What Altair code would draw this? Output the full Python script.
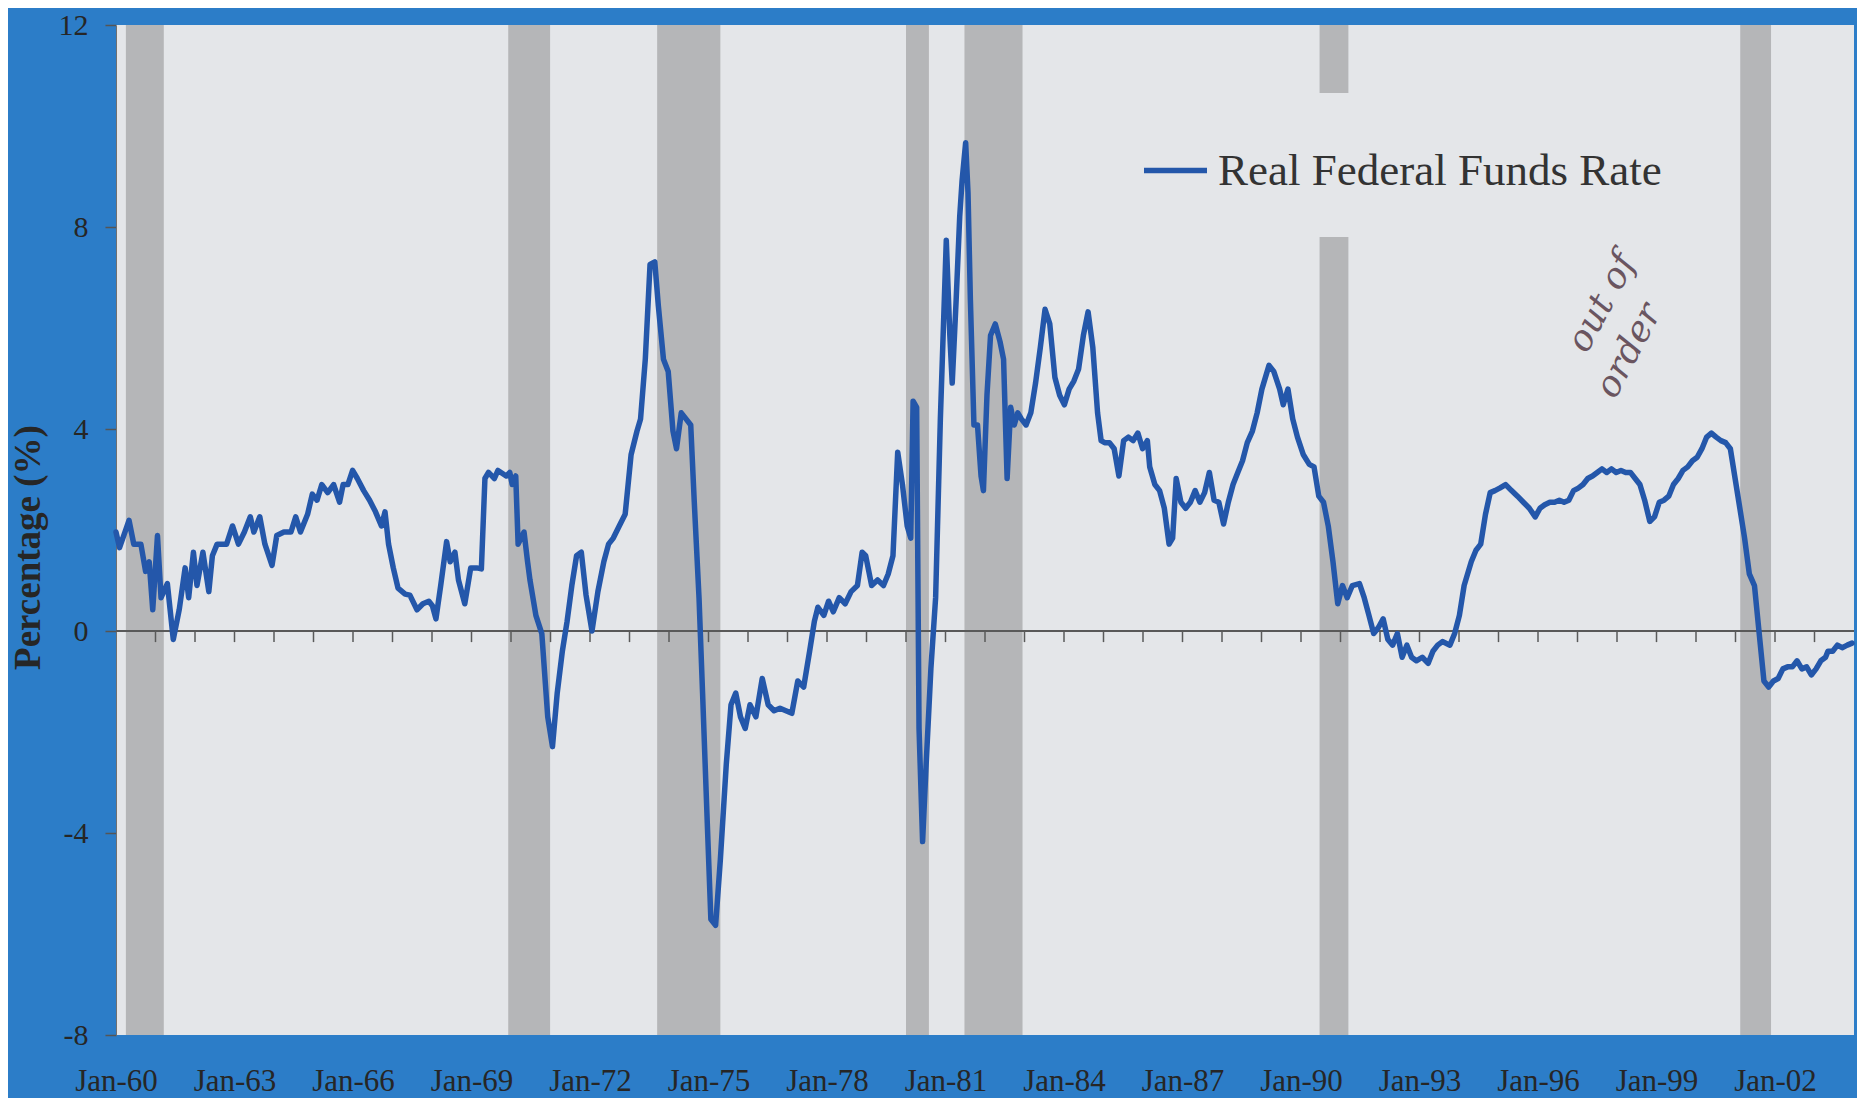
import altair as alt
import pandas as pd

SERIES = "Real Federal Funds Rate"

YEAR = [
    1960.00, 1960.09, 1960.33, 1960.45, 1960.63, 1960.75, 1960.84, 1960.93, 1961.05, 1961.14,
    1961.30, 1961.45, 1961.60, 1961.75, 1961.84, 1961.96, 1962.05, 1962.20, 1962.35, 1962.44,
    1962.56, 1962.80, 1962.95, 1963.10, 1963.25, 1963.40, 1963.49, 1963.64, 1963.77, 1963.95,
    1964.07, 1964.25, 1964.43, 1964.55, 1964.67, 1964.85, 1964.97, 1965.09, 1965.21, 1965.36,
    1965.51, 1965.66, 1965.75, 1965.87, 1965.99, 1966.11, 1966.27, 1966.42, 1966.57, 1966.72,
    1966.81, 1966.90, 1967.02, 1967.14, 1967.32, 1967.44, 1967.62, 1967.77, 1967.92, 1968.01,
    1968.10, 1968.22, 1968.37, 1968.46, 1968.58, 1968.67, 1968.83, 1968.98, 1969.13, 1969.25,
    1969.34, 1969.43, 1969.58, 1969.67, 1969.88, 1969.97, 1970.03, 1970.12, 1970.18, 1970.33,
    1970.42, 1970.48, 1970.63, 1970.78, 1970.93, 1971.05, 1971.17, 1971.30, 1971.42, 1971.54,
    1971.66, 1971.78, 1971.90, 1972.05, 1972.20, 1972.35, 1972.47, 1972.59, 1972.74, 1972.89,
    1973.04, 1973.19, 1973.28, 1973.40, 1973.52, 1973.64, 1973.73, 1973.86, 1973.98, 1974.10,
    1974.19, 1974.31, 1974.43, 1974.55, 1974.64, 1974.76, 1974.85, 1974.97, 1975.06, 1975.18,
    1975.30, 1975.45, 1975.57, 1975.69, 1975.81, 1975.93, 1976.05, 1976.20, 1976.36, 1976.51,
    1976.66, 1976.81, 1976.96, 1977.11, 1977.26, 1977.41, 1977.56, 1977.68, 1977.77, 1977.92,
    1978.04, 1978.16, 1978.31, 1978.46, 1978.61, 1978.77, 1978.89, 1978.98, 1979.13, 1979.28,
    1979.43, 1979.55, 1979.67, 1979.79, 1979.91, 1980.03, 1980.12, 1980.18, 1980.27, 1980.33,
    1980.42, 1980.51, 1980.63, 1980.75, 1980.87, 1981.02, 1981.11, 1981.17, 1981.27, 1981.36,
    1981.42, 1981.51, 1981.57, 1981.63, 1981.72, 1981.81, 1981.90, 1981.96, 1982.05, 1982.14,
    1982.26, 1982.38, 1982.47, 1982.56, 1982.65, 1982.74, 1982.83, 1982.92, 1983.04, 1983.16,
    1983.28, 1983.40, 1983.52, 1983.64, 1983.77, 1983.89, 1984.01, 1984.13, 1984.25, 1984.37,
    1984.49, 1984.61, 1984.73, 1984.85, 1984.94, 1985.03, 1985.15, 1985.27, 1985.39, 1985.51,
    1985.63, 1985.75, 1985.87, 1985.99, 1986.11, 1986.17, 1986.30, 1986.42, 1986.54, 1986.66,
    1986.75, 1986.84, 1986.96, 1987.08, 1987.20, 1987.32, 1987.44, 1987.56, 1987.68, 1987.80,
    1987.92, 1988.04, 1988.16, 1988.28, 1988.40, 1988.52, 1988.64, 1988.77, 1988.89, 1989.01,
    1989.19, 1989.31, 1989.46, 1989.55, 1989.67, 1989.79, 1989.91, 1990.06, 1990.21, 1990.33,
    1990.45, 1990.57, 1990.69, 1990.81, 1990.93, 1991.05, 1991.17, 1991.30, 1991.48, 1991.60,
    1991.72, 1991.84, 1991.96, 1992.08, 1992.20, 1992.32, 1992.44, 1992.56, 1992.68, 1992.80,
    1992.92, 1993.07, 1993.22, 1993.34, 1993.46, 1993.58, 1993.77, 1993.89, 1994.01, 1994.13,
    1994.31, 1994.43, 1994.55, 1994.67, 1994.79, 1994.91, 1995.03, 1995.18, 1995.33, 1995.48,
    1995.63, 1995.78, 1995.93, 1996.05, 1996.17, 1996.30, 1996.42, 1996.54, 1996.66, 1996.78,
    1996.90, 1997.02, 1997.14, 1997.26, 1997.38, 1997.50, 1997.62, 1997.74, 1997.86, 1997.98,
    1998.10, 1998.22, 1998.34, 1998.46, 1998.58, 1998.70, 1998.83, 1998.95, 1999.07, 1999.19,
    1999.31, 1999.43, 1999.55, 1999.67, 1999.79, 1999.91, 2000.03, 2000.15, 2000.27, 2000.39,
    2000.51, 2000.63, 2000.75, 2000.87, 2000.99, 2001.11, 2001.23, 2001.35, 2001.48, 2001.60,
    2001.72, 2001.84, 2001.96, 2002.08, 2002.20, 2002.32, 2002.44, 2002.56, 2002.68, 2002.80,
    2002.92, 2003.04, 2003.16, 2003.28, 2003.34, 2003.46, 2003.58, 2003.70, 2003.83, 2003.95,
]

RATE = [
    1.96, 1.65, 2.19, 1.72, 1.72, 1.18, 1.37, 0.42, 1.89, 0.66,
    0.94, -0.17, 0.42, 1.25, 0.66, 1.56, 0.90, 1.56, 0.78, 1.49,
    1.72, 1.72, 2.08, 1.72, 1.96, 2.26, 1.96, 2.26, 1.72, 1.30,
    1.89, 1.96, 1.96, 2.26, 1.96, 2.31, 2.71, 2.59, 2.90, 2.74,
    2.90, 2.55, 2.90, 2.90, 3.18, 3.02, 2.78, 2.59, 2.36, 2.08,
    2.36, 1.72, 1.25, 0.85, 0.73, 0.71, 0.42, 0.54, 0.59, 0.50,
    0.24, 0.90, 1.77, 1.37, 1.56, 1.01, 0.54, 1.25, 1.25, 1.23,
    3.02, 3.14, 3.02, 3.18, 3.07, 3.14, 2.90, 3.07, 1.72, 1.96,
    1.37, 1.01, 0.31, -0.05, -1.70, -2.29, -1.23, -0.40, 0.19, 0.90,
    1.49, 1.56, 0.71, 0.00, 0.78, 1.37, 1.72, 1.84, 2.08, 2.31,
    3.49, 3.96, 4.20, 5.38, 7.26, 7.31, 6.44, 5.38, 5.14, 3.96,
    3.61, 4.32, 4.20, 4.08, 2.55, 0.66, -1.23, -3.82, -5.71, -5.83,
    -4.53, -2.64, -1.46, -1.23, -1.70, -1.93, -1.46, -1.70, -0.94, -1.46,
    -1.58, -1.53, -1.58, -1.63, -0.99, -1.11, -0.40, 0.19, 0.47, 0.31,
    0.59, 0.38, 0.66, 0.54, 0.78, 0.90, 1.56, 1.49, 0.90, 1.01,
    0.90, 1.13, 1.49, 3.54, 2.90, 2.08, 1.84, 4.55, 4.43, -1.93,
    -4.17, -2.64, -0.75, 0.66, 4.20, 7.74, 5.85, 4.91, 6.56, 8.21,
    8.92, 9.67, 8.68, 6.56, 4.08, 4.08, 3.07, 2.78, 4.67, 5.85,
    6.08, 5.73, 5.38, 3.02, 4.43, 4.08, 4.32, 4.20, 4.08, 4.32,
    4.91, 5.61, 6.37, 6.08, 5.02, 4.67, 4.48, 4.79, 4.95, 5.19,
    5.85, 6.32, 5.61, 4.32, 3.77, 3.73, 3.73, 3.61, 3.07, 3.77,
    3.84, 3.77, 3.92, 3.61, 3.77, 3.25, 2.90, 2.78, 2.43, 1.72,
    1.84, 3.02, 2.55, 2.43, 2.55, 2.78, 2.55, 2.74, 3.14, 2.59,
    2.55, 2.12, 2.55, 2.90, 3.14, 3.37, 3.73, 3.96, 4.32, 4.79,
    5.26, 5.14, 4.79, 4.48, 4.79, 4.20, 3.84, 3.49, 3.30, 3.25,
    2.67, 2.55, 2.08, 1.37, 0.54, 0.90, 0.66, 0.90, 0.94, 0.66,
    0.31, -0.05, 0.07, 0.24, -0.17, -0.28, -0.05, -0.52, -0.28, -0.52,
    -0.59, -0.52, -0.64, -0.40, -0.28, -0.21, -0.28, -0.05, 0.31, 0.90,
    1.37, 1.60, 1.72, 2.31, 2.74, 2.78, 2.83, 2.90, 2.78, 2.67,
    2.55, 2.43, 2.26, 2.43, 2.50, 2.55, 2.55, 2.59, 2.55, 2.59,
    2.78, 2.83, 2.90, 3.02, 3.07, 3.14, 3.21, 3.14, 3.21, 3.14,
    3.18, 3.14, 3.14, 3.02, 2.90, 2.59, 2.17, 2.26, 2.55, 2.59,
    2.67, 2.90, 3.02, 3.18, 3.25, 3.37, 3.44, 3.61, 3.84, 3.92,
    3.84, 3.77, 3.73, 3.61, 3.02, 2.43, 1.84, 1.13, 0.90, -0.05,
    -0.99, -1.11, -0.99, -0.94, -0.75, -0.71, -0.71, -0.59, -0.75, -0.71,
    -0.87, -0.75, -0.59, -0.52, -0.40, -0.40, -0.28, -0.33, -0.28, -0.24,
]

# Recession periods (shaded bars)
REC_START = [1960.25, 1969.93, 1973.70, 1980.00, 1981.48, 1990.47, 2001.12]
REC_END = [1961.21, 1970.99, 1975.30, 1980.58, 1982.95, 1991.20, 2001.90]

Y_TICKS = [-8, -4, 0, 4, 8, 12]
X_LABEL_YEARS = [1960, 1963, 1966, 1969, 1972, 1975, 1978, 1981, 1984, 1987, 1990, 1993, 1996, 1999, 2002]
ZERO_TICK_YEARS = list(range(1961, 2004))

NOTE_TEXT = ["out of", "order"]
NOTE_YEAR = [1997.62, 1998.30]
NOTE_VALUE = [6.5, 5.55]

# styles
BG = "#2c7dc8"
PLOT_BG = "#e4e6e9"
BAR = "#b5b6b8"
LINE = "#2457aa"
TXT = "#262626"
FONT = "Liberation Serif"

W, H = 1738, 1010
xscale = alt.Scale(domain=[1960, 2004.0], nice=False, zero=False)
yscale = alt.Scale(domain=[-8, 12], nice=False, zero=False)

df = pd.DataFrame({"year": YEAR, "rate": RATE, "series": SERIES})
rec = pd.DataFrame({"start": REC_START, "end": REC_END})
ticks = pd.DataFrame({"year": ZERO_TICK_YEARS})
notes = pd.DataFrame({"year": NOTE_YEAR, "value": NOTE_VALUE, "text": NOTE_TEXT})

x_axis = alt.Axis(
    values=X_LABEL_YEARS,
    labelExpr="'Jan-' + substring(toString(datum.value), 2, 4)",
    domain=False, ticks=False, grid=False, title=None,
    labelFont=FONT, labelFontSize=31, labelColor=TXT,
    labelBaseline="alphabetic", labelPadding=55,
    labelFlush=False, labelOverlap=False, labelBound=False,
)
y_axis = alt.Axis(
    values=Y_TICKS, labelExpr="toString(datum.value)", grid=False,
    labelFont=FONT, labelFontSize=30, labelColor=TXT, labelPadding=17,
    tickSize=11, tickColor="#555555", tickWidth=1.5,
    domain=True, domainColor="#707070", domainWidth=1,
    title="Percentage (%)", titleFont=FONT, titleFontSize=37, titleFontWeight="bold",
    titleColor=TXT, titleAngle=270, titleX=-88, titleY=522,
    titleAlign="center", titleBaseline="middle",
)

bars = alt.Chart(rec).mark_rect(color=BAR).encode(
    x=alt.X("start:Q", scale=xscale, axis=x_axis),
    x2="end:Q",
    y=alt.Y(datum=12, type="quantitative", scale=yscale, axis=y_axis),
    y2=alt.Y2(datum=-8),
)

zero_line = alt.Chart(rec).mark_rule(color="#5a5a5a", strokeWidth=1.5).encode(
    y=alt.Y(datum=0, type="quantitative", scale=yscale, axis=y_axis),
)

zero_ticks = alt.Chart(ticks).mark_rule(color="#5a5a5a", strokeWidth=1.5).encode(
    x=alt.X("year:Q", scale=xscale, axis=x_axis),
    y=alt.Y(datum=0, type="quantitative", scale=yscale, axis=y_axis),
    y2=alt.Y2(datum=-0.22),
)

line = alt.Chart(df).mark_line(strokeWidth=5.5, strokeJoin="round", strokeCap="round").encode(
    x=alt.X("year:Q", scale=xscale, axis=x_axis),
    y=alt.Y("rate:Q", scale=yscale, axis=y_axis),
    color=alt.Color(
        "series:N",
        scale=alt.Scale(domain=[SERIES], range=[LINE]),
        legend=alt.Legend(
            title=None, orient="none", legendX=982, legendY=68,
            fillColor=PLOT_BG, padding=43,
            symbolType="stroke", symbolStrokeWidth=5.5, symbolSize=3969,
            labelFont=FONT, labelFontSize=45, labelColor="#333333",
            labelOffset=8, labelLimit=1000,
        ),
    ),
)

note = alt.Chart(notes).mark_text(
    angle=298, font="DejaVu Serif", fontStyle="italic", fontSize=36,
    color="#6a5560", align="center", baseline="middle",
).encode(
    x=alt.X("year:Q", scale=xscale, axis=x_axis),
    y=alt.Y("value:Q", scale=yscale, axis=y_axis),
    text="text:N",
)

chart = alt.layer(bars, zero_line, zero_ticks, line, note).properties(
    width=W, height=H, background=BG,
    padding={"left": 108, "top": 17, "right": 3, "bottom": 63},
    autosize=alt.AutoSizeParams(type="none"),
).configure_view(fill=PLOT_BG, stroke=PLOT_BG, strokeWidth=0)

chart.save("out.html", embed_options={"renderer": "svg", "actions": False})
